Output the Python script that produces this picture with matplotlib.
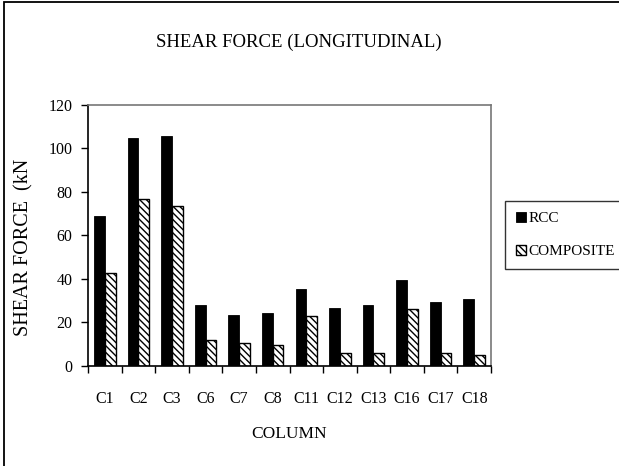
import numpy as np
import matplotlib.pyplot as plt
from matplotlib.patches import Rectangle

plt.rcParams["font.family"] = ["Liberation Serif", "DejaVu Serif"]
plt.rcParams["hatch.linewidth"] = 1.0
plt.rcParams["hatch.color"] = "#333333"

columns = ["C1", "C2", "C3", "C6", "C7", "C8", "C11", "C12", "C13", "C16", "C17", "C18"]
rcc = [69.0, 105.0, 105.7, 28.0, 23.4, 24.4, 35.2, 26.5, 27.9, 39.7, 29.6, 31.0]
composite = [42.6, 76.6, 73.4, 12.0, 10.4, 9.7, 23.0, 6.0, 6.0, 26.4, 6.0, 5.2]

fig = plt.figure(figsize=(6.19, 4.66), dpi=100)
ax = fig.add_axes([0.1422, 0.2146, 0.6510, 0.5601])

x = np.arange(len(columns))
w = 0.32
ax.bar(x - w / 2, rcc, width=w, color="black", edgecolor="black", linewidth=0.6, label="RCC")
ax.bar(x + w / 2, composite, width=w, color="white", edgecolor="black", linewidth=1.0,
       hatch="\\\\\\\\\\", label="COMPOSITE")

ax.set_xlim(-0.5, len(columns) - 0.5)
ax.set_ylim(0, 120)
ax.set_yticks(range(0, 121, 20))

# category labels at centres, tick marks at the boundaries
ax.set_xticks(x)
ax.set_xticklabels(columns, fontsize=11.5)
ax.set_xticks(np.arange(-0.5, len(columns), 1), minor=True)
ax.tick_params(axis="x", which="major", length=0, pad=18)
ax.tick_params(axis="x", which="minor", length=5, width=1, direction="out")
ax.tick_params(axis="y", length=5, width=1, direction="out", pad=6, labelsize=11.5)

for side in ["top", "right"]:
    ax.spines[side].set_color("#777777")
    ax.spines[side].set_linewidth(1.2)
for side in ["left", "bottom"]:
    ax.spines[side].set_color("black")
    ax.spines[side].set_linewidth(1.2)

ax.set_xlabel("COLUMN", fontsize=12.5, labelpad=14)
ax.set_ylabel("SHEAR FORCE  (kN", fontsize=14.5)
ax.yaxis.set_label_coords(-0.135, 0.455)

fig.text(0.483, 0.91, "SHEAR FORCE (LONGITUDINAL)", ha="center", va="center", fontsize=13.5)

leg = fig.legend(loc="upper left", bbox_to_anchor=(0.8158, 0.5687), fontsize=11,
                 frameon=True, fancybox=False, handlelength=0.65, handleheight=0.65,
                 handletextpad=0.2, labelspacing=1.3, borderpad=0.7, borderaxespad=0)
leg.get_frame().set_edgecolor("black")
leg.get_frame().set_linewidth(1.0)

# outer chart border
fig.add_artist(Rectangle((4 / 619, -0.1), 1.2, 1.1 - 2 / 466, transform=fig.transFigure,
                         fill=False, edgecolor="black", linewidth=1.3))

fig.savefig("out.png", dpi=100)
